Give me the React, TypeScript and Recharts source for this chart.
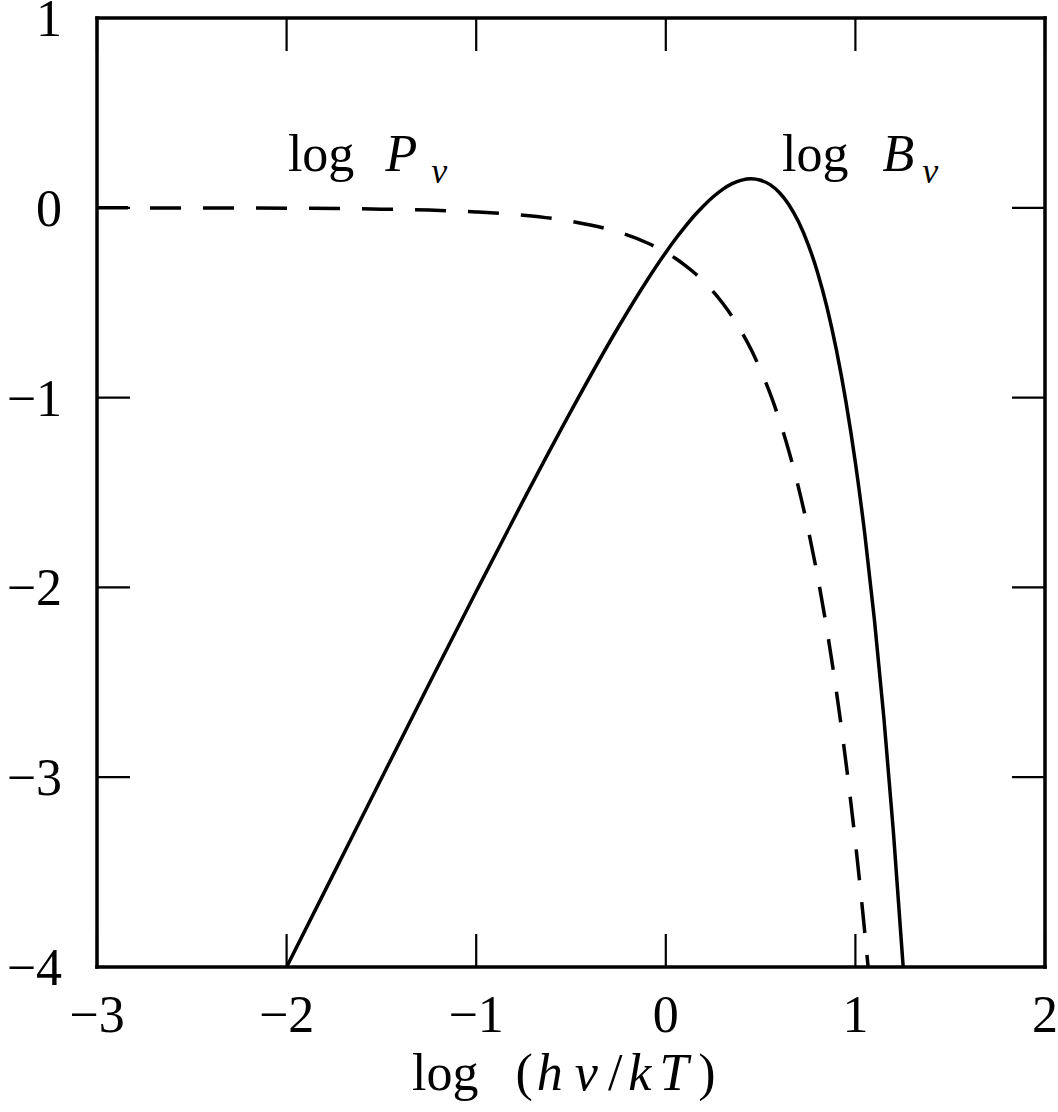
import React from 'react';
import { LineChart, Line, XAxis, YAxis, ReferenceDot } from 'recharts';

// log(h nu / kT) sample points and curve values
const LOG_X_P = [
  -3, -2.5, -2, -1.5, -1.25, -1, -0.75, -0.5, -0.25, -0.1, 0, 0.05, 0.1, 0.15, 0.2,
  0.25, 0.3, 0.35, 0.4, 0.45, 0.5, 0.55, 0.6, 0.65, 0.7, 0.75, 0.8, 0.85, 0.9, 0.95,
  1.0, 1.03, 1.05, 1.067,
];
const LOG_P = [
  -0.0002, -0.0007, -0.002, -0.007, -0.012, -0.022, -0.039, -0.071, -0.128, -0.184,
  -0.235, -0.266, -0.302, -0.342, -0.389, -0.442, -0.503, -0.573, -0.654, -0.747,
  -0.855, -0.978, -1.121, -1.285, -1.474, -1.691, -1.939, -2.224, -2.55, -2.921,
  -3.343, -3.624, -3.823, -4.0,
];

const LOG_X_B = [
  -2, -1.75, -1.5, -1.25, -1, -0.75, -0.5, -0.25, -0.1, 0, 0.05, 0.1, 0.15, 0.2,
  0.25, 0.3, 0.35, 0.4, 0.45, 0.5, 0.55, 0.6, 0.65, 0.7, 0.75, 0.8, 0.85, 0.9,
  0.95, 1.0, 1.05, 1.1, 1.15, 1.2, 1.252,
];
const LOG_B = [
  -4.0, -3.504, -3.007, -2.512, -2.022, -1.539, -1.071, -0.628, -0.384, -0.235,
  -0.166, -0.102, -0.042, 0.011, 0.058, 0.097, 0.127, 0.146, 0.153, 0.145, 0.122,
  0.079, 0.015, -0.074, -0.191, -0.339, -0.524, -0.75, -1.021, -1.343, -1.723,
  -2.168, -2.685, -3.283, -4.0,
];

const X_TICKS = [-3, -2, -1, 0, 1, 2];
const Y_TICKS = [-4, -3, -2, -1, 0, 1];

const pData = LOG_X_P.map((x, i) => ({ x, y: LOG_P[i] }));
const bData = LOG_X_B.map((x, i) => ({ x, y: LOG_B[i] }));

const FONT = '"Liberation Serif", "Times New Roman", serif';
const TICK_LEN = 33;
const fmt = (v: number) => (v < 0 ? `\u2212${Math.abs(v)}` : `${v}`);

const frame = { stroke: '#000', strokeWidth: 3.5, strokeLinecap: 'square' as const };

const BottomTick = (props: any) => {
  const { x, y, payload } = props;
  return (
    <g>
      <line x1={x} y1={y} x2={x} y2={y - TICK_LEN} stroke="#000" strokeWidth={2.2} />
      <text x={x} y={y + 65} textAnchor="middle" fontFamily={FONT} fontSize={52} fill="#000">
        {fmt(payload.value)}
      </text>
    </g>
  );
};

const TopTick = (props: any) => {
  const { x, y } = props;
  return <line x1={x} y1={y} x2={x} y2={y + TICK_LEN} stroke="#000" strokeWidth={2.2} />;
};

const LeftTick = (props: any) => {
  const { x, y, payload } = props;
  return (
    <g>
      <line x1={x} y1={y} x2={x + TICK_LEN} y2={y} stroke="#000" strokeWidth={2.2} />
      <text x={x - 35} y={y + 18} textAnchor="end" fontFamily={FONT} fontSize={52} fill="#000">
        {fmt(payload.value)}
      </text>
    </g>
  );
};

const RightTick = (props: any) => {
  const { x, y } = props;
  return <line x1={x} y1={y} x2={x - TICK_LEN} y2={y} stroke="#000" strokeWidth={2.2} />;
};

const CurveLabel = ({ cx, cy, sym, gap, subGap }: any) => (
  <text x={cx} y={cy} fontFamily={FONT} fontSize={52} fill="#000">
    <tspan>log</tspan>
    <tspan dx={gap} fontStyle="italic">{sym}</tspan>
    <tspan dx={subGap} dy={12} fontSize={36} fontStyle="italic">ν</tspan>
  </text>
);

export default function App() {
  return (
    <div style={{ position: 'absolute', left: 0, top: 0, background: '#fff' }}>
      <LineChart width={1058} height={1112} margin={{ top: 17, right: 12, left: 0, bottom: 0 }}>
        <XAxis
          dataKey="x"
          type="number"
          domain={[-3, 2]}
          ticks={X_TICKS}
          allowDataOverflow
          height={145}
          axisLine={frame}
          tickLine={false}
          tickSize={0}
          tickMargin={0}
          tick={<BottomTick />}
          interval={0}
        />
        <XAxis
          xAxisId="top"
          dataKey="x"
          orientation="top"
          type="number"
          domain={[-3, 2]}
          ticks={X_TICKS}
          allowDataOverflow
          height={1}
          axisLine={frame}
          tickLine={false}
          tickSize={0}
          tickMargin={0}
          tick={<TopTick />}
          interval={0}
        />
        <YAxis
          type="number"
          domain={[-4, 1]}
          ticks={Y_TICKS}
          allowDataOverflow
          width={97}
          axisLine={frame}
          tickLine={false}
          tickSize={0}
          tickMargin={0}
          tick={<LeftTick />}
          interval={0}
        />
        <YAxis
          yAxisId="right"
          orientation="right"
          type="number"
          domain={[-4, 1]}
          ticks={Y_TICKS}
          allowDataOverflow
          width={1}
          axisLine={frame}
          tickLine={false}
          tickSize={0}
          tickMargin={0}
          tick={<RightTick />}
          interval={0}
        />
        <Line
          data={pData}
          dataKey="y"
          type="monotone"
          stroke="#000"
          strokeWidth={3.5}
          strokeDasharray="31 22"
          dot={false}
          activeDot={false}
          isAnimationActive={false}
        />
        <Line
          data={bData}
          dataKey="y"
          type="monotone"
          stroke="#000"
          strokeWidth={3.5}
          dot={false}
          activeDot={false}
          isAnimationActive={false}
        />
        {/* invisible copy so the top and right frame axes get a domain */}
        <Line
          data={bData}
          dataKey="y"
          xAxisId="top"
          yAxisId="right"
          stroke="none"
          dot={false}
          activeDot={false}
          legendType="none"
          isAnimationActive={false}
        />
        <ReferenceDot
          x={-1.993}
          y={0.194}
          r={0}
          ifOverflow="visible"
          shape={(p: any) => <CurveLabel cx={p.cx} cy={p.cy} sym="P" gap={31} subGap={14} />}
        />
        <ReferenceDot
          x={0.613}
          y={0.194}
          r={0}
          ifOverflow="visible"
          shape={(p: any) => <CurveLabel cx={p.cx} cy={p.cy} sym="B" gap={34} subGap={8} />}
        />
      </LineChart>
      <svg
        width={1058}
        height={1112}
        style={{ position: 'absolute', left: 0, top: 0, pointerEvents: 'none' }}
      >
        <text x={412} y={1090} fontFamily={FONT} fontSize={52} fill="#000">
          <tspan>log</tspan>
          <tspan dx={37}>(</tspan>
          <tspan dx={4} fontStyle="italic">h</tspan>
          <tspan dx={12} fontStyle="italic">ν</tspan>
          <tspan dx={10}>/</tspan>
          <tspan dx={6} fontStyle="italic">k</tspan>
          <tspan dx={8} fontStyle="italic">T</tspan>
          <tspan dx={10}>)</tspan>
        </text>
      </svg>
    </div>
  );
}
